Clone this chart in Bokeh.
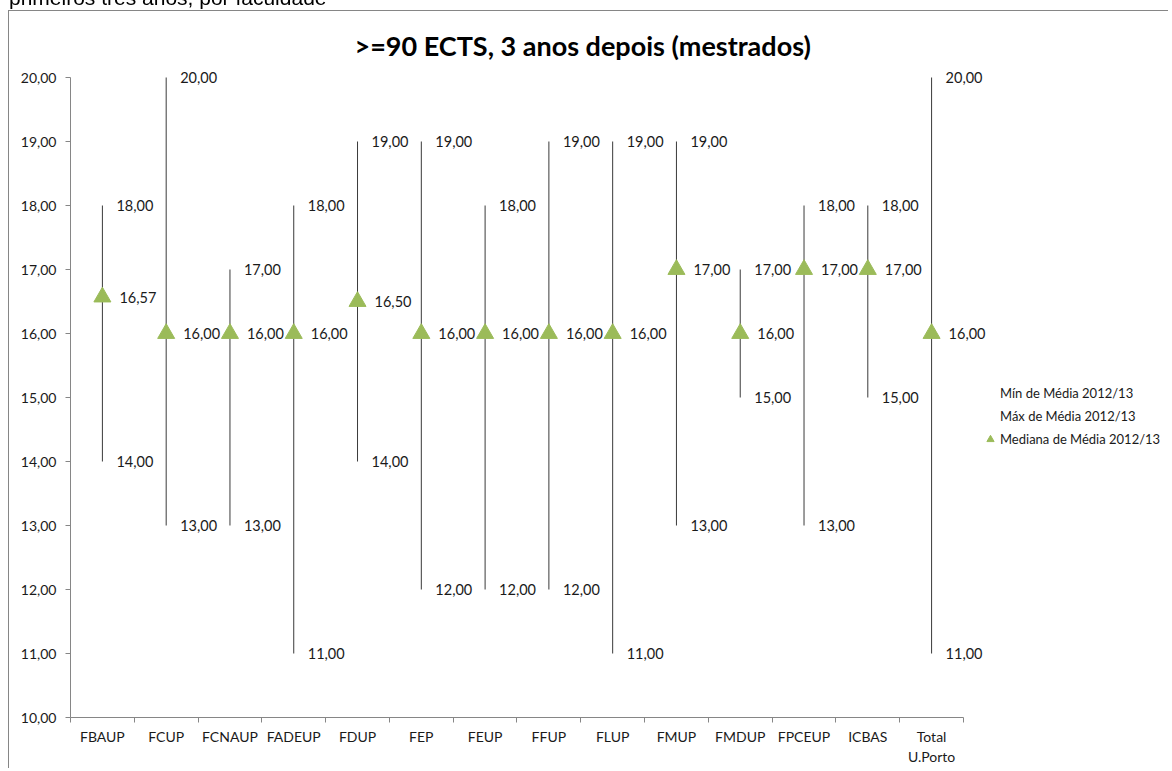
from bokeh.plotting import figure
from bokeh.models import (ColumnDataSource, FixedTicker, Legend, LegendItem, Range1d, Div, LabelSet)
from bokeh.core.properties import value
from bokeh.layouts import column
from bokeh.embed import file_html
from bokeh.resources import INLINE

categories = ["FBAUP", "FCUP", "FCNAUP", "FADEUP", "FDUP", "FEP", "FEUP", "FFUP",
              "FLUP", "FMUP", "FMDUP", "FPCEUP", "ICBAS", "Total\nU.Porto"]
min_vals = [14, 13, 13, 11, 14, 12, 12, 12, 11, 13, 15, 13, 15, 11]
max_vals = [18, 20, 17, 18, 19, 19, 18, 19, 19, 19, 17, 18, 18, 20]
median_vals = [16.57, 16, 16, 16, 16.5, 16, 16, 16, 16, 17, 16, 17, 17, 16]
y_ticks = [10, 11, 12, 13, 14, 15, 16, 17, 18, 19, 20]

title_text = ">=90 ECTS, 3 anos depois (mestrados)"
top_text = "primeiros três anos, por faculdade"
legend_labels = ["Mín de Média 2012/13", "Máx de Média 2012/13", "Mediana de Média 2012/13"]

FONT = "Lato"
TXT = "#1a1a1a"
AXIS = "#868686"
GREEN = "#9BBB59"


def fmt(v):
    return f"{v:.2f}".replace(".", ",")


n = len(categories)
xs = [i + 0.5 for i in range(n)]
src = ColumnDataSource(dict(
    x=xs, lo=min_vals, hi=max_vals, med=median_vals,
    lo_t=[fmt(v) for v in min_vals],
    hi_t=[fmt(v) for v in max_vals],
    med_t=[fmt(v) for v in median_vals],
))

# frame extends beyond the axes (axis bounds limit the drawn axes), leaving room
# for the data labels and the legend on the right
p = figure(width=1160, height=758, output_backend="svg", toolbar_location=None,
           x_range=Range1d(0, 17.23), y_range=Range1d(10, 20.25),
           min_border_left=61, min_border_right=0, min_border_top=50, min_border_bottom=52,
           title=title_text)
p.styles = {"border-left": "1px solid #868686", "border-top": "1px solid #868686",
            "margin-left": "8px", "margin-top": "10px"}
p.outline_line_color = None
p.xgrid.grid_line_color = None
p.ygrid.grid_line_color = None
p.background_fill_color = "white"
p.border_fill_color = "white"

p.title.text_font = FONT
p.title.text_font_size = "27px"
p.title.text_font_style = "bold"
p.title.text_color = "#000000"
p.title.align = "left"
p.title.offset = 284
p.title.standoff = 0

# y axis
p.yaxis.bounds = (10, 20)
p.yaxis.ticker = FixedTicker(ticks=y_ticks)
p.yaxis.major_label_overrides = {t: fmt(t) for t in y_ticks}
p.yaxis.axis_line_color = AXIS
p.yaxis.major_tick_line_color = AXIS
p.yaxis.major_tick_out = 5
p.yaxis.major_tick_in = 0
p.yaxis.minor_tick_line_color = None
p.yaxis.major_label_standoff = 9
p.yaxis.major_label_text_font = FONT
p.yaxis.major_label_text_font_size = "14px"
p.yaxis.major_label_text_color = TXT

# x axis: labels at category centres, ticks at boundaries
p.xaxis.bounds = (0, n)
p.xaxis.ticker = FixedTicker(ticks=xs, minor_ticks=list(range(n + 1)))
p.xaxis.major_label_overrides = {x: c for x, c in zip(xs, categories)}
p.xaxis.axis_line_color = AXIS
p.xaxis.major_tick_line_color = None
p.xaxis.major_tick_out = 5
p.xaxis.minor_tick_line_color = AXIS
p.xaxis.minor_tick_out = 5
p.xaxis.minor_tick_in = 0
p.xaxis.major_label_standoff = 5
p.xaxis.major_label_text_font = FONT
p.xaxis.major_label_text_font_size = "14px"
p.xaxis.major_label_text_color = TXT

# high-low lines
p.segment(x0="x", y0="lo", x1="x", y1="hi", source=src, line_color="#3a3a3a", line_width=1)

# invisible series for legend entries without markers
r_min = p.scatter("x", "lo", source=src, size=1, fill_alpha=0, line_alpha=0)
r_max = p.scatter("x", "hi", source=src, size=1, fill_alpha=0, line_alpha=0)
r_med = p.scatter("x", "med", source=src, marker="triangle", size=17,
                  fill_color=GREEN, line_color=GREEN)

# data labels
for col, txt, xo in (("hi", "hi_t", 14), ("lo", "lo_t", 14), ("med", "med_t", 17)):
    p.add_layout(LabelSet(x="x", y=col, text=txt, source=src, x_offset=xo,
                          text_align="left", text_baseline="middle", text_font=value(FONT),
                          text_font_size="14.5px", text_color=TXT))

legend = Legend(items=[LegendItem(label=legend_labels[0], renderers=[r_min]),
                       LegendItem(label=legend_labels[1], renderers=[r_max]),
                       LegendItem(label=legend_labels[2], renderers=[r_med])],
                location=(910, 269), glyph_width=20, glyph_height=18, spacing=5,
                label_standoff=-4, padding=10, margin=0,
                label_text_font=FONT, label_text_font_size="13px", label_text_color=TXT,
                border_line_color=None, background_fill_alpha=0)
p.add_layout(legend, "center")

div = Div(text=top_text, styles={"position": "fixed", "top": "-22px", "left": "4px",
                                 "font-family": "Liberation Sans, Arial, sans-serif",
                                 "font-size": "21px", "color": "#000", "z-index": "10",
                                 "white-space": "nowrap"})

layout = column(p, div)
open("out.html", "w").write(file_html(layout, INLINE))
